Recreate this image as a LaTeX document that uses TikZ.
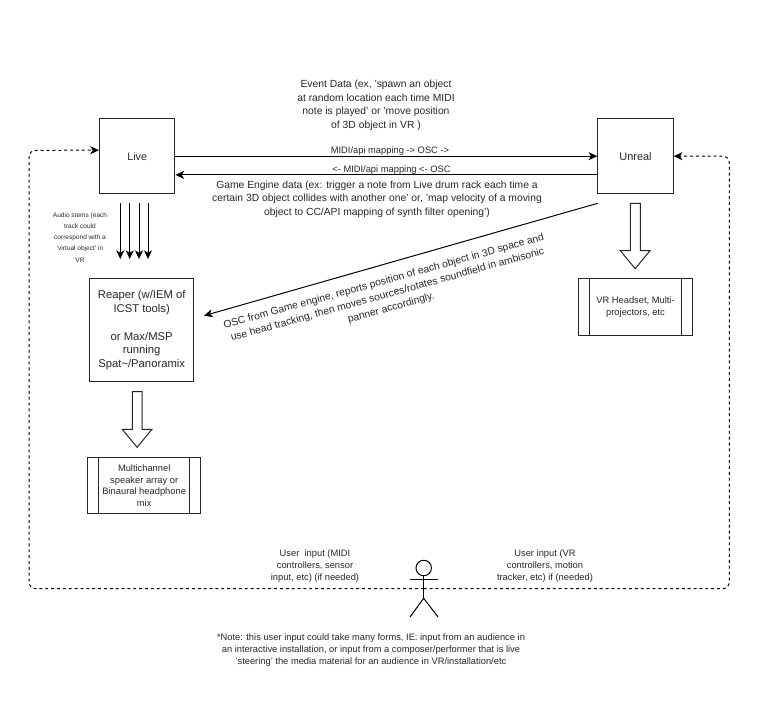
\documentclass[tikz,border=0pt]{standalone}
\usepackage{fontspec}
\setmainfont{Liberation Sans}
\usetikzlibrary{arrows.meta}
\newcommand{\fsz}[2]{\fontsize{#1}{#2}\selectfont}
\tikzset{
  px/.style={x=0.75pt,y=-0.75pt},
  every path/.style={line width=0.75pt},
  boxnode/.style={draw=black!85,line width=0.75pt,inner sep=0pt,align=center,text=black!85},
  lbl/.style={inner sep=0pt,align=center,text=black!85},
  main/.style={lbl,font=\fsz{7.75}{10.3}},
  small/.style={lbl,font=\fsz{7}{8.7}},
  tiny/.style={lbl,font=\fsz{4.9}{8.3}},
  tip/.style={-{Stealth[length=6.5pt,width=6pt,inset=1.8pt]}},
  conn/.style={tip,line width=0.75pt},
  dashloop/.style={tip,dash pattern=on 2.2pt off 2.2pt,rounded corners=5pt,line width=0.75pt},
  hollow/.style={draw=black!85,line width=0.75pt,fill=white,line join=miter}
}
\begin{document}
\begin{tikzpicture}[px]
\useasboundingbox (0,0) rectangle (779,706);
% main boxes
\node[boxnode,minimum width=56.6pt,minimum height=56.3pt,font=\fsz{8.1}{10.4}] (live) at (137.2,156.2) {Live};
\node[boxnode,minimum width=56.6pt,minimum height=56.3pt,font=\fsz{8.2}{10.4}] (unreal) at (635.5,156.2) {Unreal};
\node[boxnode,minimum width=77.6pt,minimum height=77.5pt,font=\fsz{8.45}{10.4}] (reaper) at (141.7,330.3) {Reaper (w/IEM of\\ICST tools)\\[10.2pt]or Max/MSP\\running\\Spat\string~/Panoramix};
\node[boxnode,minimum width=85.1pt,minimum height=42.3pt,font=\fsz{7}{8.7}] (multi) at (144.2,485.5) {Multichannel\\speaker array or\\Binaural headphone\\mix};
\node[boxnode,minimum width=84.8pt,minimum height=42.3pt,font=\fsz{7}{8.7}] (vr) at (635.5,306.8) {VR Headset, Multi-\\projectors, etc};
\draw[draw=black!85] ([xshift=8.8pt]multi.north west) -- ([xshift=8.8pt]multi.south west);
\draw[draw=black!85] ([xshift=-8.8pt]multi.north east) -- ([xshift=-8.8pt]multi.south east);
\draw[draw=black!85] ([xshift=8.6pt]vr.north west) -- ([xshift=8.6pt]vr.south west);
\draw[draw=black!85] ([xshift=-8.6pt]vr.north east) -- ([xshift=-8.6pt]vr.south east);
% horizontal connectors
\draw[conn] (live.east) -- (unreal.west);
\draw[conn] ([yshift=-14pt]unreal.west) -- ([yshift=-14pt]live.east);
% audio stems
\coordinate (s1a) at (120.3,203.3); \coordinate (s1b) at (120.3,259);
\coordinate (s2a) at (129.7,203.3); \coordinate (s2b) at (129.7,259);
\coordinate (s3a) at (139,203.3);   \coordinate (s3b) at (139,259);
\coordinate (s4a) at (148,203.3);   \coordinate (s4b) at (148,259);
\draw[conn] (s1a) -- (s1b);
\draw[conn] (s2a) -- (s2b);
\draw[conn] (s3a) -- (s3b);
\draw[conn] (s4a) -- (s4b);
% diagonal
\coordinate (oscA) at (597.7,203.3);
\coordinate (oscB) at (204,315.7);
\draw[conn] (oscA) -- (oscB);
% hollow arrows
\draw[hollow] (132.3,391.7) -- (142,391.7) -- (142,429.3) -- (152,429.3) -- (137.1,447.3) -- (122.2,429.3) -- (132.3,429.3) -- cycle;
\draw[hollow] (630.3,203.3) -- (640.3,203.3) -- (640.3,250.7) -- (650,250.7) -- (635.2,268.7) -- (620.3,250.7) -- (630.3,250.7) -- cycle;
% actor
\coordinate (actor) at (423.7,588.7);
\draw[dashloop] (actor) -- (29,588.7) -- (29,150.3) -- ([yshift=4.5pt]live.west);
\draw[dashloop] (actor) -- (729.3,588.7) -- (729.3,156.2) -- (unreal.east);
\node[draw=black,fill=white,circle,minimum size=11.6pt,inner sep=0pt] (head) at (423.7,568) {};
\draw (head.south) -- (423.7,598.3) coordinate (hip);
\draw (410,579.3) -- (438,579.3);
\draw (410,617) -- (hip) -- (438,617);
% labels
\node[main] (t1) at (376,105.3) {Event Data (ex, 'spawn an object\\at random location each time MIDI\\note is played' or 'move position\\of 3D object in VR )};
\node[small] (t2) at (390,151.4) {MIDI/api mapping -> OSC ->};
\node[small] (t3) at (391.5,170.4) {<- MIDI/api mapping <- OSC};
\node[main] (t4) at (377,199.3) {Game Engine data (ex: trigger a note from Live drum rack each time a\\certain 3D object collides with another one' or, 'map velocity of a moving\\object to CC/API mapping of synth filter opening')};
\node[tiny] (t5) at (80,237.5) {Audio stems (each\\track could\\correspond with a\\'virtual object' in\\VR};
\node[main,rotate=15.5] (t6) at (387.5,295) {OSC from Game engine, reports position of each object in 3D space and\\use head tracking, then moves sources/rotates soundfield in ambisonic\\panner accordingly.};
\node[small] (t7) at (315,566) {User\ \ input (MIDI\\controllers, sensor\\input, etc) (if needed)};
\node[small] (t8) at (545,566) {User input (VR\\controllers, motion\\tracker, etc) if (needed)};
\node[small] (t9) at (371,650) {*Note: this user input could take many forms, IE: input from an audience in\\an interactive installation, or input from a composer/performer that is live\\'steering' the media material for an audience in VR/installation/etc};
\end{tikzpicture}
\end{document}
